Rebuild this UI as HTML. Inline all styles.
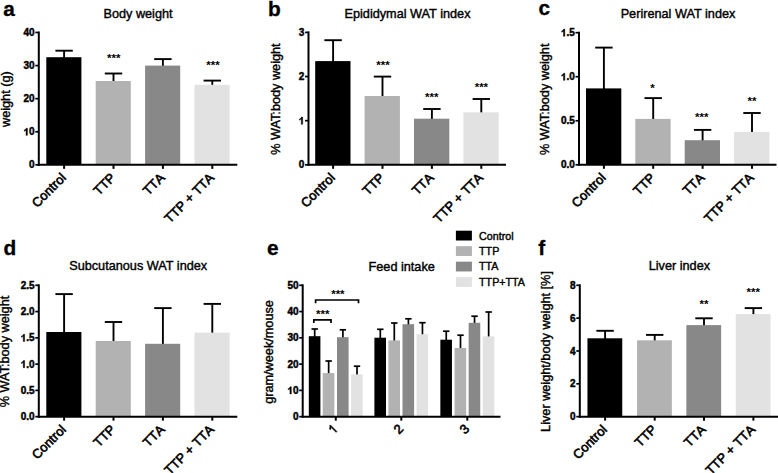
<!DOCTYPE html>
<html><head><meta charset="utf-8"><title>Figure</title>
<style>
html,body{margin:0;padding:0;background:#fff;}
body{width:778px;height:473px;overflow:hidden;}
svg{display:block;font-family:'Liberation Sans', sans-serif;}
text{fill:#000;}
</style></head>
<body>
<svg width="778" height="473" viewBox="0 0 778 473">
<rect x="0" y="0" width="778" height="473" fill="#fff"/>
<line x1="64.10" y1="50.70" x2="64.10" y2="58.20" stroke="#000" stroke-width="1.9" stroke-linecap="butt"/>
<line x1="55.40" y1="50.70" x2="72.80" y2="50.70" stroke="#000" stroke-width="1.9" stroke-linecap="butt"/>
<rect x="46.30" y="57.20" width="35.10" height="107.65" fill="#000000"/>
<line x1="113.50" y1="73.50" x2="113.50" y2="82.00" stroke="#000" stroke-width="1.9" stroke-linecap="butt"/>
<line x1="104.80" y1="73.50" x2="122.20" y2="73.50" stroke="#000" stroke-width="1.9" stroke-linecap="butt"/>
<rect x="95.70" y="81.00" width="35.10" height="83.85" fill="#b2b2b2"/>
<line x1="162.90" y1="59.10" x2="162.90" y2="66.60" stroke="#000" stroke-width="1.9" stroke-linecap="butt"/>
<line x1="154.20" y1="59.10" x2="171.60" y2="59.10" stroke="#000" stroke-width="1.9" stroke-linecap="butt"/>
<rect x="145.10" y="65.60" width="35.10" height="99.25" fill="#888888"/>
<line x1="212.30" y1="80.60" x2="212.30" y2="85.80" stroke="#000" stroke-width="1.9" stroke-linecap="butt"/>
<line x1="203.60" y1="80.60" x2="221.00" y2="80.60" stroke="#000" stroke-width="1.9" stroke-linecap="butt"/>
<rect x="194.50" y="84.80" width="35.10" height="80.05" fill="#e2e2e2"/>
<line x1="38.80" y1="31.50" x2="38.80" y2="165.85" stroke="#000" stroke-width="2.0" stroke-linecap="butt"/>
<line x1="37.80" y1="164.85" x2="237.30" y2="164.85" stroke="#000" stroke-width="2.0" stroke-linecap="butt"/>
<line x1="35.30" y1="164.85" x2="38.80" y2="164.85" stroke="#000" stroke-width="1.7" stroke-linecap="butt"/>
<text x="34.60" y="168.45" font-size="10" font-weight="bold" text-anchor="end" stroke="#000" stroke-width="0.45">0</text>
<line x1="35.30" y1="131.76" x2="38.80" y2="131.76" stroke="#000" stroke-width="1.7" stroke-linecap="butt"/>
<text x="34.60" y="135.36" font-size="10" font-weight="bold" text-anchor="end" stroke="#000" stroke-width="0.45">0</text>
<g transform="translate(29.04 135.36) rotate(0) scale(0.00488 -0.00488) translate(-1139 0)"><path d="M806 0H525V1059Q371 915 162 846V1101Q272 1137 401 1237.5Q530 1338 578 1472H806Z" fill="#000" stroke="#000" stroke-width="92.2"/></g>
<line x1="35.30" y1="98.67" x2="38.80" y2="98.67" stroke="#000" stroke-width="1.7" stroke-linecap="butt"/>
<text x="34.60" y="102.27" font-size="10" font-weight="bold" text-anchor="end" stroke="#000" stroke-width="0.45">20</text>
<line x1="35.30" y1="65.59" x2="38.80" y2="65.59" stroke="#000" stroke-width="1.7" stroke-linecap="butt"/>
<text x="34.60" y="69.19" font-size="10" font-weight="bold" text-anchor="end" stroke="#000" stroke-width="0.45">30</text>
<line x1="35.30" y1="32.50" x2="38.80" y2="32.50" stroke="#000" stroke-width="1.7" stroke-linecap="butt"/>
<text x="34.60" y="36.10" font-size="10" font-weight="bold" text-anchor="end" stroke="#000" stroke-width="0.45">40</text>
<line x1="64.10" y1="164.85" x2="64.10" y2="168.85" stroke="#000" stroke-width="2.0" stroke-linecap="butt"/>
<text x="66.80" y="178.55" font-size="13" text-anchor="end" transform="rotate(-45 66.80 178.55)" stroke="#000" stroke-width="0.6" style="font-kerning:none">Control</text>
<line x1="113.50" y1="164.85" x2="113.50" y2="168.85" stroke="#000" stroke-width="2.0" stroke-linecap="butt"/>
<text x="116.20" y="178.55" font-size="13" text-anchor="end" transform="rotate(-45 116.20 178.55)" stroke="#000" stroke-width="0.6" style="font-kerning:none">TTP</text>
<line x1="162.90" y1="164.85" x2="162.90" y2="168.85" stroke="#000" stroke-width="2.0" stroke-linecap="butt"/>
<text x="165.60" y="178.55" font-size="13" text-anchor="end" transform="rotate(-45 165.60 178.55)" stroke="#000" stroke-width="0.6" style="font-kerning:none">TTA</text>
<line x1="212.30" y1="164.85" x2="212.30" y2="168.85" stroke="#000" stroke-width="2.0" stroke-linecap="butt"/>
<text x="215.00" y="178.55" font-size="13" text-anchor="end" transform="rotate(-45 215.00 178.55)" stroke="#000" stroke-width="0.6" style="font-kerning:none">TTP + TTA</text>
<text x="138.00" y="18.00" font-size="12.7" font-weight="normal" text-anchor="middle" stroke="#000" stroke-width="0.4">Body weight</text>
<text x="9.80" y="99.17" font-size="12.7" font-weight="normal" text-anchor="middle" transform="rotate(-90 9.80 99.17)" stroke="#000" stroke-width="0.4">weight (g)</text>
<text transform="translate(3.20 15.50) scale(1.07 1)" font-size="19.5" font-weight="bold" stroke="#000" stroke-width="0.3">a</text>
<text x="113.70" y="62.30" font-size="11.5" font-weight="bold" text-anchor="middle">***</text>
<text x="213.00" y="68.60" font-size="11.5" font-weight="bold" text-anchor="middle">***</text>
<line x1="333.10" y1="40.20" x2="333.10" y2="62.10" stroke="#000" stroke-width="1.9" stroke-linecap="butt"/>
<line x1="324.40" y1="40.20" x2="341.80" y2="40.20" stroke="#000" stroke-width="1.9" stroke-linecap="butt"/>
<rect x="315.20" y="61.10" width="35.30" height="103.70" fill="#000000"/>
<line x1="382.50" y1="76.60" x2="382.50" y2="97.00" stroke="#000" stroke-width="1.9" stroke-linecap="butt"/>
<line x1="373.80" y1="76.60" x2="391.20" y2="76.60" stroke="#000" stroke-width="1.9" stroke-linecap="butt"/>
<rect x="364.60" y="96.00" width="35.30" height="68.80" fill="#b2b2b2"/>
<line x1="431.90" y1="109.00" x2="431.90" y2="119.70" stroke="#000" stroke-width="1.9" stroke-linecap="butt"/>
<line x1="423.20" y1="109.00" x2="440.60" y2="109.00" stroke="#000" stroke-width="1.9" stroke-linecap="butt"/>
<rect x="414.00" y="118.70" width="35.30" height="46.10" fill="#888888"/>
<line x1="481.30" y1="99.00" x2="481.30" y2="113.30" stroke="#000" stroke-width="1.9" stroke-linecap="butt"/>
<line x1="472.60" y1="99.00" x2="490.00" y2="99.00" stroke="#000" stroke-width="1.9" stroke-linecap="butt"/>
<rect x="463.40" y="112.30" width="35.30" height="52.50" fill="#e2e2e2"/>
<line x1="308.50" y1="31.40" x2="308.50" y2="165.80" stroke="#000" stroke-width="2.0" stroke-linecap="butt"/>
<line x1="307.50" y1="164.80" x2="506.00" y2="164.80" stroke="#000" stroke-width="2.0" stroke-linecap="butt"/>
<line x1="305.00" y1="164.80" x2="308.50" y2="164.80" stroke="#000" stroke-width="1.7" stroke-linecap="butt"/>
<text x="304.30" y="168.40" font-size="10" font-weight="bold" text-anchor="end" stroke="#000" stroke-width="0.45">0</text>
<line x1="305.00" y1="120.67" x2="308.50" y2="120.67" stroke="#000" stroke-width="1.7" stroke-linecap="butt"/>
<g transform="translate(304.30 124.27) rotate(0) scale(0.00488 -0.00488) translate(-1139 0)"><path d="M806 0H525V1059Q371 915 162 846V1101Q272 1137 401 1237.5Q530 1338 578 1472H806Z" fill="#000" stroke="#000" stroke-width="92.2"/></g>
<line x1="305.00" y1="76.53" x2="308.50" y2="76.53" stroke="#000" stroke-width="1.7" stroke-linecap="butt"/>
<text x="304.30" y="80.13" font-size="10" font-weight="bold" text-anchor="end" stroke="#000" stroke-width="0.45">2</text>
<line x1="305.00" y1="32.40" x2="308.50" y2="32.40" stroke="#000" stroke-width="1.7" stroke-linecap="butt"/>
<text x="304.30" y="36.00" font-size="10" font-weight="bold" text-anchor="end" stroke="#000" stroke-width="0.45">3</text>
<line x1="333.10" y1="164.80" x2="333.10" y2="168.80" stroke="#000" stroke-width="2.0" stroke-linecap="butt"/>
<text x="335.80" y="178.50" font-size="13" text-anchor="end" transform="rotate(-45 335.80 178.50)" stroke="#000" stroke-width="0.6" style="font-kerning:none">Control</text>
<line x1="382.50" y1="164.80" x2="382.50" y2="168.80" stroke="#000" stroke-width="2.0" stroke-linecap="butt"/>
<text x="385.20" y="178.50" font-size="13" text-anchor="end" transform="rotate(-45 385.20 178.50)" stroke="#000" stroke-width="0.6" style="font-kerning:none">TTP</text>
<line x1="431.90" y1="164.80" x2="431.90" y2="168.80" stroke="#000" stroke-width="2.0" stroke-linecap="butt"/>
<text x="434.60" y="178.50" font-size="13" text-anchor="end" transform="rotate(-45 434.60 178.50)" stroke="#000" stroke-width="0.6" style="font-kerning:none">TTA</text>
<line x1="481.30" y1="164.80" x2="481.30" y2="168.80" stroke="#000" stroke-width="2.0" stroke-linecap="butt"/>
<text x="484.00" y="178.50" font-size="13" text-anchor="end" transform="rotate(-45 484.00 178.50)" stroke="#000" stroke-width="0.6" style="font-kerning:none">TTP + TTA</text>
<text x="407.50" y="18.00" font-size="12.7" font-weight="normal" text-anchor="middle" stroke="#000" stroke-width="0.4">Epididymal WAT index</text>
<text x="279.90" y="99.10" font-size="12.7" font-weight="normal" text-anchor="middle" transform="rotate(-90 279.90 99.10)" stroke="#000" stroke-width="0.4">% WAT:body weight</text>
<text transform="translate(268.00 15.50) scale(1.07 1)" font-size="19.5" font-weight="bold" stroke="#000" stroke-width="0.3">b</text>
<text x="383.00" y="68.80" font-size="11.5" font-weight="bold" text-anchor="middle">***</text>
<text x="431.80" y="101.00" font-size="11.5" font-weight="bold" text-anchor="middle">***</text>
<text x="481.40" y="91.20" font-size="11.5" font-weight="bold" text-anchor="middle">***</text>
<line x1="603.90" y1="47.60" x2="603.90" y2="89.40" stroke="#000" stroke-width="1.9" stroke-linecap="butt"/>
<line x1="595.20" y1="47.60" x2="612.60" y2="47.60" stroke="#000" stroke-width="1.9" stroke-linecap="butt"/>
<rect x="586.00" y="88.40" width="35.30" height="76.40" fill="#000000"/>
<line x1="653.20" y1="98.10" x2="653.20" y2="119.90" stroke="#000" stroke-width="1.9" stroke-linecap="butt"/>
<line x1="644.50" y1="98.10" x2="661.90" y2="98.10" stroke="#000" stroke-width="1.9" stroke-linecap="butt"/>
<rect x="635.30" y="118.90" width="35.30" height="45.90" fill="#b2b2b2"/>
<line x1="702.60" y1="129.90" x2="702.60" y2="141.20" stroke="#000" stroke-width="1.9" stroke-linecap="butt"/>
<line x1="693.90" y1="129.90" x2="711.30" y2="129.90" stroke="#000" stroke-width="1.9" stroke-linecap="butt"/>
<rect x="684.70" y="140.20" width="35.30" height="24.60" fill="#888888"/>
<line x1="752.00" y1="113.00" x2="752.00" y2="132.90" stroke="#000" stroke-width="1.9" stroke-linecap="butt"/>
<line x1="743.30" y1="113.00" x2="760.70" y2="113.00" stroke="#000" stroke-width="1.9" stroke-linecap="butt"/>
<rect x="734.10" y="131.90" width="35.30" height="32.90" fill="#e2e2e2"/>
<line x1="579.00" y1="31.70" x2="579.00" y2="165.80" stroke="#000" stroke-width="2.0" stroke-linecap="butt"/>
<line x1="578.00" y1="164.80" x2="776.50" y2="164.80" stroke="#000" stroke-width="2.0" stroke-linecap="butt"/>
<line x1="575.50" y1="164.80" x2="579.00" y2="164.80" stroke="#000" stroke-width="1.7" stroke-linecap="butt"/>
<text x="574.80" y="168.40" font-size="10" font-weight="bold" text-anchor="end" stroke="#000" stroke-width="0.45">0.0</text>
<line x1="575.50" y1="120.77" x2="579.00" y2="120.77" stroke="#000" stroke-width="1.7" stroke-linecap="butt"/>
<text x="574.80" y="124.37" font-size="10" font-weight="bold" text-anchor="end" stroke="#000" stroke-width="0.45">0.5</text>
<line x1="575.50" y1="76.73" x2="579.00" y2="76.73" stroke="#000" stroke-width="1.7" stroke-linecap="butt"/>
<text x="574.80" y="80.33" font-size="10" font-weight="bold" text-anchor="end" stroke="#000" stroke-width="0.45">0</text>
<text x="569.24" y="80.33" font-size="10" font-weight="bold" text-anchor="end" stroke="#000" stroke-width="0.45">.</text>
<g transform="translate(566.46 80.33) rotate(0) scale(0.00488 -0.00488) translate(-1139 0)"><path d="M806 0H525V1059Q371 915 162 846V1101Q272 1137 401 1237.5Q530 1338 578 1472H806Z" fill="#000" stroke="#000" stroke-width="92.2"/></g>
<line x1="575.50" y1="32.70" x2="579.00" y2="32.70" stroke="#000" stroke-width="1.7" stroke-linecap="butt"/>
<text x="574.80" y="36.30" font-size="10" font-weight="bold" text-anchor="end" stroke="#000" stroke-width="0.45">5</text>
<text x="569.24" y="36.30" font-size="10" font-weight="bold" text-anchor="end" stroke="#000" stroke-width="0.45">.</text>
<g transform="translate(566.46 36.30) rotate(0) scale(0.00488 -0.00488) translate(-1139 0)"><path d="M806 0H525V1059Q371 915 162 846V1101Q272 1137 401 1237.5Q530 1338 578 1472H806Z" fill="#000" stroke="#000" stroke-width="92.2"/></g>
<line x1="603.90" y1="164.80" x2="603.90" y2="168.80" stroke="#000" stroke-width="2.0" stroke-linecap="butt"/>
<text x="606.60" y="178.50" font-size="13" text-anchor="end" transform="rotate(-45 606.60 178.50)" stroke="#000" stroke-width="0.6" style="font-kerning:none">Control</text>
<line x1="653.20" y1="164.80" x2="653.20" y2="168.80" stroke="#000" stroke-width="2.0" stroke-linecap="butt"/>
<text x="655.90" y="178.50" font-size="13" text-anchor="end" transform="rotate(-45 655.90 178.50)" stroke="#000" stroke-width="0.6" style="font-kerning:none">TTP</text>
<line x1="702.60" y1="164.80" x2="702.60" y2="168.80" stroke="#000" stroke-width="2.0" stroke-linecap="butt"/>
<text x="705.30" y="178.50" font-size="13" text-anchor="end" transform="rotate(-45 705.30 178.50)" stroke="#000" stroke-width="0.6" style="font-kerning:none">TTA</text>
<line x1="752.00" y1="164.80" x2="752.00" y2="168.80" stroke="#000" stroke-width="2.0" stroke-linecap="butt"/>
<text x="754.70" y="178.50" font-size="13" text-anchor="end" transform="rotate(-45 754.70 178.50)" stroke="#000" stroke-width="0.6" style="font-kerning:none">TTP + TTA</text>
<text x="678.00" y="18.00" font-size="12.7" font-weight="normal" text-anchor="middle" stroke="#000" stroke-width="0.4">Perirenal WAT index</text>
<text x="549.40" y="99.25" font-size="12.7" font-weight="normal" text-anchor="middle" transform="rotate(-90 549.40 99.25)" stroke="#000" stroke-width="0.4">% WAT:body weight</text>
<text transform="translate(538.50 15.20) scale(1.07 1)" font-size="19.5" font-weight="bold" stroke="#000" stroke-width="0.3">c</text>
<text x="652.50" y="92.30" font-size="11.5" font-weight="bold" text-anchor="middle">*</text>
<text x="701.70" y="121.30" font-size="11.5" font-weight="bold" text-anchor="middle">***</text>
<text x="752.00" y="105.30" font-size="11.5" font-weight="bold" text-anchor="middle">**</text>
<line x1="64.10" y1="294.10" x2="64.10" y2="333.00" stroke="#000" stroke-width="1.9" stroke-linecap="butt"/>
<line x1="55.40" y1="294.10" x2="72.80" y2="294.10" stroke="#000" stroke-width="1.9" stroke-linecap="butt"/>
<rect x="46.30" y="332.00" width="35.10" height="84.65" fill="#000000"/>
<line x1="113.50" y1="322.00" x2="113.50" y2="342.00" stroke="#000" stroke-width="1.9" stroke-linecap="butt"/>
<line x1="104.80" y1="322.00" x2="122.20" y2="322.00" stroke="#000" stroke-width="1.9" stroke-linecap="butt"/>
<rect x="95.70" y="341.00" width="35.10" height="75.65" fill="#b2b2b2"/>
<line x1="162.90" y1="308.10" x2="162.90" y2="344.80" stroke="#000" stroke-width="1.9" stroke-linecap="butt"/>
<line x1="154.20" y1="308.10" x2="171.60" y2="308.10" stroke="#000" stroke-width="1.9" stroke-linecap="butt"/>
<rect x="145.10" y="343.80" width="35.10" height="72.85" fill="#888888"/>
<line x1="212.30" y1="303.90" x2="212.30" y2="333.60" stroke="#000" stroke-width="1.9" stroke-linecap="butt"/>
<line x1="203.60" y1="303.90" x2="221.00" y2="303.90" stroke="#000" stroke-width="1.9" stroke-linecap="butt"/>
<rect x="194.50" y="332.60" width="35.10" height="84.05" fill="#e2e2e2"/>
<line x1="38.80" y1="284.30" x2="38.80" y2="417.65" stroke="#000" stroke-width="2.0" stroke-linecap="butt"/>
<line x1="37.80" y1="416.65" x2="237.30" y2="416.65" stroke="#000" stroke-width="2.0" stroke-linecap="butt"/>
<line x1="35.30" y1="416.65" x2="38.80" y2="416.65" stroke="#000" stroke-width="1.7" stroke-linecap="butt"/>
<text x="34.60" y="420.25" font-size="10" font-weight="bold" text-anchor="end" stroke="#000" stroke-width="0.45">0.0</text>
<line x1="35.30" y1="390.38" x2="38.80" y2="390.38" stroke="#000" stroke-width="1.7" stroke-linecap="butt"/>
<text x="34.60" y="393.98" font-size="10" font-weight="bold" text-anchor="end" stroke="#000" stroke-width="0.45">0.5</text>
<line x1="35.30" y1="364.11" x2="38.80" y2="364.11" stroke="#000" stroke-width="1.7" stroke-linecap="butt"/>
<text x="34.60" y="367.71" font-size="10" font-weight="bold" text-anchor="end" stroke="#000" stroke-width="0.45">0</text>
<text x="29.04" y="367.71" font-size="10" font-weight="bold" text-anchor="end" stroke="#000" stroke-width="0.45">.</text>
<g transform="translate(26.26 367.71) rotate(0) scale(0.00488 -0.00488) translate(-1139 0)"><path d="M806 0H525V1059Q371 915 162 846V1101Q272 1137 401 1237.5Q530 1338 578 1472H806Z" fill="#000" stroke="#000" stroke-width="92.2"/></g>
<line x1="35.30" y1="337.84" x2="38.80" y2="337.84" stroke="#000" stroke-width="1.7" stroke-linecap="butt"/>
<text x="34.60" y="341.44" font-size="10" font-weight="bold" text-anchor="end" stroke="#000" stroke-width="0.45">5</text>
<text x="29.04" y="341.44" font-size="10" font-weight="bold" text-anchor="end" stroke="#000" stroke-width="0.45">.</text>
<g transform="translate(26.26 341.44) rotate(0) scale(0.00488 -0.00488) translate(-1139 0)"><path d="M806 0H525V1059Q371 915 162 846V1101Q272 1137 401 1237.5Q530 1338 578 1472H806Z" fill="#000" stroke="#000" stroke-width="92.2"/></g>
<line x1="35.30" y1="311.57" x2="38.80" y2="311.57" stroke="#000" stroke-width="1.7" stroke-linecap="butt"/>
<text x="34.60" y="315.17" font-size="10" font-weight="bold" text-anchor="end" stroke="#000" stroke-width="0.45">2.0</text>
<line x1="35.30" y1="285.30" x2="38.80" y2="285.30" stroke="#000" stroke-width="1.7" stroke-linecap="butt"/>
<text x="34.60" y="288.90" font-size="10" font-weight="bold" text-anchor="end" stroke="#000" stroke-width="0.45">2.5</text>
<line x1="64.10" y1="416.65" x2="64.10" y2="420.65" stroke="#000" stroke-width="2.0" stroke-linecap="butt"/>
<text x="66.80" y="430.35" font-size="13" text-anchor="end" transform="rotate(-45 66.80 430.35)" stroke="#000" stroke-width="0.6" style="font-kerning:none">Control</text>
<line x1="113.50" y1="416.65" x2="113.50" y2="420.65" stroke="#000" stroke-width="2.0" stroke-linecap="butt"/>
<text x="116.20" y="430.35" font-size="13" text-anchor="end" transform="rotate(-45 116.20 430.35)" stroke="#000" stroke-width="0.6" style="font-kerning:none">TTP</text>
<line x1="162.90" y1="416.65" x2="162.90" y2="420.65" stroke="#000" stroke-width="2.0" stroke-linecap="butt"/>
<text x="165.60" y="430.35" font-size="13" text-anchor="end" transform="rotate(-45 165.60 430.35)" stroke="#000" stroke-width="0.6" style="font-kerning:none">TTA</text>
<line x1="212.30" y1="416.65" x2="212.30" y2="420.65" stroke="#000" stroke-width="2.0" stroke-linecap="butt"/>
<text x="215.00" y="430.35" font-size="13" text-anchor="end" transform="rotate(-45 215.00 430.35)" stroke="#000" stroke-width="0.6" style="font-kerning:none">TTP + TTA</text>
<text x="138.20" y="270.40" font-size="12.7" font-weight="normal" text-anchor="middle" stroke="#000" stroke-width="0.4">Subcutanous WAT index</text>
<text x="9.30" y="351.48" font-size="12.7" font-weight="normal" text-anchor="middle" transform="rotate(-90 9.30 351.48)" stroke="#000" stroke-width="0.4">% WAT:body weight</text>
<text transform="translate(3.60 254.70) scale(1.07 1)" font-size="19.5" font-weight="bold" stroke="#000" stroke-width="0.3">d</text>
<line x1="605.10" y1="330.80" x2="605.10" y2="339.30" stroke="#000" stroke-width="1.9" stroke-linecap="butt"/>
<line x1="596.40" y1="330.80" x2="613.80" y2="330.80" stroke="#000" stroke-width="1.9" stroke-linecap="butt"/>
<rect x="587.45" y="338.30" width="34.80" height="78.35" fill="#000000"/>
<line x1="654.70" y1="334.90" x2="654.70" y2="341.30" stroke="#000" stroke-width="1.9" stroke-linecap="butt"/>
<line x1="646.00" y1="334.90" x2="663.40" y2="334.90" stroke="#000" stroke-width="1.9" stroke-linecap="butt"/>
<rect x="637.05" y="340.30" width="34.80" height="76.35" fill="#b2b2b2"/>
<line x1="704.00" y1="318.30" x2="704.00" y2="326.10" stroke="#000" stroke-width="1.9" stroke-linecap="butt"/>
<line x1="695.30" y1="318.30" x2="712.70" y2="318.30" stroke="#000" stroke-width="1.9" stroke-linecap="butt"/>
<rect x="686.35" y="325.10" width="34.80" height="91.55" fill="#888888"/>
<line x1="753.40" y1="308.10" x2="753.40" y2="315.10" stroke="#000" stroke-width="1.9" stroke-linecap="butt"/>
<line x1="744.70" y1="308.10" x2="762.10" y2="308.10" stroke="#000" stroke-width="1.9" stroke-linecap="butt"/>
<rect x="735.75" y="314.10" width="34.80" height="102.55" fill="#e2e2e2"/>
<line x1="579.80" y1="284.30" x2="579.80" y2="417.65" stroke="#000" stroke-width="2.0" stroke-linecap="butt"/>
<line x1="578.80" y1="416.65" x2="778.00" y2="416.65" stroke="#000" stroke-width="2.0" stroke-linecap="butt"/>
<line x1="576.30" y1="416.65" x2="579.80" y2="416.65" stroke="#000" stroke-width="1.7" stroke-linecap="butt"/>
<text x="575.60" y="420.25" font-size="10" font-weight="bold" text-anchor="end" stroke="#000" stroke-width="0.45">0</text>
<line x1="576.30" y1="383.81" x2="579.80" y2="383.81" stroke="#000" stroke-width="1.7" stroke-linecap="butt"/>
<text x="575.60" y="387.41" font-size="10" font-weight="bold" text-anchor="end" stroke="#000" stroke-width="0.45">2</text>
<line x1="576.30" y1="350.98" x2="579.80" y2="350.98" stroke="#000" stroke-width="1.7" stroke-linecap="butt"/>
<text x="575.60" y="354.58" font-size="10" font-weight="bold" text-anchor="end" stroke="#000" stroke-width="0.45">4</text>
<line x1="576.30" y1="318.14" x2="579.80" y2="318.14" stroke="#000" stroke-width="1.7" stroke-linecap="butt"/>
<text x="575.60" y="321.74" font-size="10" font-weight="bold" text-anchor="end" stroke="#000" stroke-width="0.45">6</text>
<line x1="576.30" y1="285.30" x2="579.80" y2="285.30" stroke="#000" stroke-width="1.7" stroke-linecap="butt"/>
<text x="575.60" y="288.90" font-size="10" font-weight="bold" text-anchor="end" stroke="#000" stroke-width="0.45">8</text>
<line x1="605.10" y1="416.65" x2="605.10" y2="420.65" stroke="#000" stroke-width="2.0" stroke-linecap="butt"/>
<text x="607.80" y="430.35" font-size="13" text-anchor="end" transform="rotate(-45 607.80 430.35)" stroke="#000" stroke-width="0.6" style="font-kerning:none">Control</text>
<line x1="654.70" y1="416.65" x2="654.70" y2="420.65" stroke="#000" stroke-width="2.0" stroke-linecap="butt"/>
<text x="657.40" y="430.35" font-size="13" text-anchor="end" transform="rotate(-45 657.40 430.35)" stroke="#000" stroke-width="0.6" style="font-kerning:none">TTP</text>
<line x1="704.00" y1="416.65" x2="704.00" y2="420.65" stroke="#000" stroke-width="2.0" stroke-linecap="butt"/>
<text x="706.70" y="430.35" font-size="13" text-anchor="end" transform="rotate(-45 706.70 430.35)" stroke="#000" stroke-width="0.6" style="font-kerning:none">TTA</text>
<line x1="753.40" y1="416.65" x2="753.40" y2="420.65" stroke="#000" stroke-width="2.0" stroke-linecap="butt"/>
<text x="756.10" y="430.35" font-size="13" text-anchor="end" transform="rotate(-45 756.10 430.35)" stroke="#000" stroke-width="0.6" style="font-kerning:none">TTP + TTA</text>
<text x="679.40" y="270.40" font-size="12.7" font-weight="normal" text-anchor="middle" stroke="#000" stroke-width="0.4">Liver index</text>
<text x="550.00" y="351.48" font-size="12.7" font-weight="normal" text-anchor="middle" transform="rotate(-90 550.00 351.48)" stroke="#000" stroke-width="0.4">Liver weight/body weight [%]</text>
<text transform="translate(538.20 254.70) scale(1.07 1)" font-size="19.5" font-weight="bold" stroke="#000" stroke-width="0.3">f</text>
<text x="704.00" y="307.60" font-size="11.5" font-weight="bold" text-anchor="middle">**</text>
<text x="753.20" y="296.30" font-size="11.5" font-weight="bold" text-anchor="middle">***</text>
<line x1="314.70" y1="329.00" x2="314.70" y2="337.20" stroke="#000" stroke-width="1.7" stroke-linecap="butt"/>
<line x1="311.50" y1="329.00" x2="317.90" y2="329.00" stroke="#000" stroke-width="1.7" stroke-linecap="butt"/>
<rect x="308.80" y="336.20" width="11.60" height="80.45" fill="#000000"/>
<line x1="328.65" y1="361.00" x2="328.65" y2="374.10" stroke="#000" stroke-width="1.7" stroke-linecap="butt"/>
<line x1="325.45" y1="361.00" x2="331.85" y2="361.00" stroke="#000" stroke-width="1.7" stroke-linecap="butt"/>
<rect x="322.75" y="373.10" width="11.60" height="43.55" fill="#b2b2b2"/>
<line x1="342.90" y1="329.80" x2="342.90" y2="338.20" stroke="#000" stroke-width="1.7" stroke-linecap="butt"/>
<line x1="339.70" y1="329.80" x2="346.10" y2="329.80" stroke="#000" stroke-width="1.7" stroke-linecap="butt"/>
<rect x="337.00" y="337.20" width="11.60" height="79.45" fill="#888888"/>
<line x1="357.00" y1="366.20" x2="357.00" y2="375.40" stroke="#000" stroke-width="1.7" stroke-linecap="butt"/>
<line x1="353.80" y1="366.20" x2="360.20" y2="366.20" stroke="#000" stroke-width="1.7" stroke-linecap="butt"/>
<rect x="351.10" y="374.40" width="11.60" height="42.25" fill="#e2e2e2"/>
<line x1="380.30" y1="329.30" x2="380.30" y2="338.70" stroke="#000" stroke-width="1.7" stroke-linecap="butt"/>
<line x1="377.10" y1="329.30" x2="383.50" y2="329.30" stroke="#000" stroke-width="1.7" stroke-linecap="butt"/>
<rect x="374.40" y="337.70" width="11.60" height="78.95" fill="#000000"/>
<line x1="394.30" y1="323.00" x2="394.30" y2="341.40" stroke="#000" stroke-width="1.7" stroke-linecap="butt"/>
<line x1="391.10" y1="323.00" x2="397.50" y2="323.00" stroke="#000" stroke-width="1.7" stroke-linecap="butt"/>
<rect x="388.40" y="340.40" width="11.60" height="76.25" fill="#b2b2b2"/>
<line x1="408.40" y1="318.80" x2="408.40" y2="325.20" stroke="#000" stroke-width="1.7" stroke-linecap="butt"/>
<line x1="405.20" y1="318.80" x2="411.60" y2="318.80" stroke="#000" stroke-width="1.7" stroke-linecap="butt"/>
<rect x="402.50" y="324.20" width="11.60" height="92.45" fill="#888888"/>
<line x1="422.45" y1="322.70" x2="422.45" y2="335.20" stroke="#000" stroke-width="1.7" stroke-linecap="butt"/>
<line x1="419.25" y1="322.70" x2="425.65" y2="322.70" stroke="#000" stroke-width="1.7" stroke-linecap="butt"/>
<rect x="416.55" y="334.20" width="11.60" height="82.45" fill="#e2e2e2"/>
<line x1="446.25" y1="331.20" x2="446.25" y2="340.70" stroke="#000" stroke-width="1.7" stroke-linecap="butt"/>
<line x1="443.05" y1="331.20" x2="449.45" y2="331.20" stroke="#000" stroke-width="1.7" stroke-linecap="butt"/>
<rect x="440.35" y="339.70" width="11.60" height="76.95" fill="#000000"/>
<line x1="460.50" y1="335.20" x2="460.50" y2="349.00" stroke="#000" stroke-width="1.7" stroke-linecap="butt"/>
<line x1="457.30" y1="335.20" x2="463.70" y2="335.20" stroke="#000" stroke-width="1.7" stroke-linecap="butt"/>
<rect x="454.60" y="348.00" width="11.60" height="68.65" fill="#b2b2b2"/>
<line x1="474.55" y1="316.20" x2="474.55" y2="323.80" stroke="#000" stroke-width="1.7" stroke-linecap="butt"/>
<line x1="471.35" y1="316.20" x2="477.75" y2="316.20" stroke="#000" stroke-width="1.7" stroke-linecap="butt"/>
<rect x="468.65" y="322.80" width="11.60" height="93.85" fill="#888888"/>
<line x1="488.65" y1="312.00" x2="488.65" y2="337.40" stroke="#000" stroke-width="1.7" stroke-linecap="butt"/>
<line x1="485.45" y1="312.00" x2="491.85" y2="312.00" stroke="#000" stroke-width="1.7" stroke-linecap="butt"/>
<rect x="482.75" y="336.40" width="11.60" height="80.25" fill="#e2e2e2"/>
<line x1="302.70" y1="284.30" x2="302.70" y2="417.65" stroke="#000" stroke-width="2.0" stroke-linecap="butt"/>
<line x1="301.70" y1="416.65" x2="500.50" y2="416.65" stroke="#000" stroke-width="2.0" stroke-linecap="butt"/>
<line x1="299.20" y1="416.65" x2="302.70" y2="416.65" stroke="#000" stroke-width="1.7" stroke-linecap="butt"/>
<text x="298.50" y="420.25" font-size="10" font-weight="bold" text-anchor="end" stroke="#000" stroke-width="0.45">0</text>
<line x1="299.20" y1="390.38" x2="302.70" y2="390.38" stroke="#000" stroke-width="1.7" stroke-linecap="butt"/>
<text x="298.50" y="393.98" font-size="10" font-weight="bold" text-anchor="end" stroke="#000" stroke-width="0.45">0</text>
<g transform="translate(292.94 393.98) rotate(0) scale(0.00488 -0.00488) translate(-1139 0)"><path d="M806 0H525V1059Q371 915 162 846V1101Q272 1137 401 1237.5Q530 1338 578 1472H806Z" fill="#000" stroke="#000" stroke-width="92.2"/></g>
<line x1="299.20" y1="364.11" x2="302.70" y2="364.11" stroke="#000" stroke-width="1.7" stroke-linecap="butt"/>
<text x="298.50" y="367.71" font-size="10" font-weight="bold" text-anchor="end" stroke="#000" stroke-width="0.45">20</text>
<line x1="299.20" y1="337.84" x2="302.70" y2="337.84" stroke="#000" stroke-width="1.7" stroke-linecap="butt"/>
<text x="298.50" y="341.44" font-size="10" font-weight="bold" text-anchor="end" stroke="#000" stroke-width="0.45">30</text>
<line x1="299.20" y1="311.57" x2="302.70" y2="311.57" stroke="#000" stroke-width="1.7" stroke-linecap="butt"/>
<text x="298.50" y="315.17" font-size="10" font-weight="bold" text-anchor="end" stroke="#000" stroke-width="0.45">40</text>
<line x1="299.20" y1="285.30" x2="302.70" y2="285.30" stroke="#000" stroke-width="1.7" stroke-linecap="butt"/>
<text x="298.50" y="288.90" font-size="10" font-weight="bold" text-anchor="end" stroke="#000" stroke-width="0.45">50</text>
<line x1="335.80" y1="416.65" x2="335.80" y2="420.65" stroke="#000" stroke-width="2.0" stroke-linecap="butt"/>
<g transform="translate(338.60 429.85) rotate(-45) scale(0.00635 -0.00635) translate(-1139 0)"><path d="M763 0H583V1147Q518 1085 412.5 1023Q307 961 223 930V1104Q374 1175 487 1276Q600 1377 647 1472H763Z" fill="#000" stroke="#000" stroke-width="94.5"/></g>
<line x1="401.30" y1="416.65" x2="401.30" y2="420.65" stroke="#000" stroke-width="2.0" stroke-linecap="butt"/>
<text x="404.20" y="429.75" font-size="13" text-anchor="end" transform="rotate(-45 404.20 429.75)" stroke="#000" stroke-width="0.6">2</text>
<line x1="467.30" y1="416.65" x2="467.30" y2="420.65" stroke="#000" stroke-width="2.0" stroke-linecap="butt"/>
<text x="470.20" y="429.75" font-size="13" text-anchor="end" transform="rotate(-45 470.20 429.75)" stroke="#000" stroke-width="0.6">3</text>
<text x="401.70" y="270.60" font-size="12.7" font-weight="normal" text-anchor="middle" stroke="#000" stroke-width="0.4">Feed intake</text>
<text x="272.70" y="351.98" font-size="12.7" font-weight="normal" text-anchor="middle" transform="rotate(-90 272.70 351.98)" stroke="#000" stroke-width="0.4">gram/week/mouse</text>
<text transform="translate(267 254.7) scale(1.07 1)" font-size="19.5" font-weight="bold" stroke="#000" stroke-width="0.3">e</text>
<path d="M315.60 303.20 V300.00 H358.50 V303.20" fill="none" stroke="#000" stroke-width="1.7" stroke-linejoin="miter"/>
<path d="M313.80 323.00 V319.80 H331.00 V323.00" fill="none" stroke="#000" stroke-width="1.7" stroke-linejoin="miter"/>
<text x="337.90" y="298.30" font-size="11.5" font-weight="bold" text-anchor="middle">***</text>
<text x="322.70" y="318.40" font-size="11.5" font-weight="bold" text-anchor="middle">***</text>
<rect x="455.90" y="230.70" width="16.00" height="9.80" fill="#000000"/>
<text x="479.10" y="239.50" font-size="10.7" font-weight="normal" text-anchor="start" stroke="#000" stroke-width="0.4">Control</text>
<rect x="455.90" y="246.17" width="16.00" height="9.80" fill="#b2b2b2"/>
<text x="479.10" y="254.97" font-size="10.7" font-weight="normal" text-anchor="start" stroke="#000" stroke-width="0.4">TTP</text>
<rect x="455.90" y="261.64" width="16.00" height="9.80" fill="#888888"/>
<text x="479.10" y="270.44" font-size="10.7" font-weight="normal" text-anchor="start" stroke="#000" stroke-width="0.4">TTA</text>
<rect x="455.90" y="277.11" width="16.00" height="9.80" fill="#e2e2e2"/>
<text x="479.10" y="285.91" font-size="10.7" font-weight="normal" text-anchor="start" stroke="#000" stroke-width="0.4">TTP+TTA</text>
</svg>
</body></html>
